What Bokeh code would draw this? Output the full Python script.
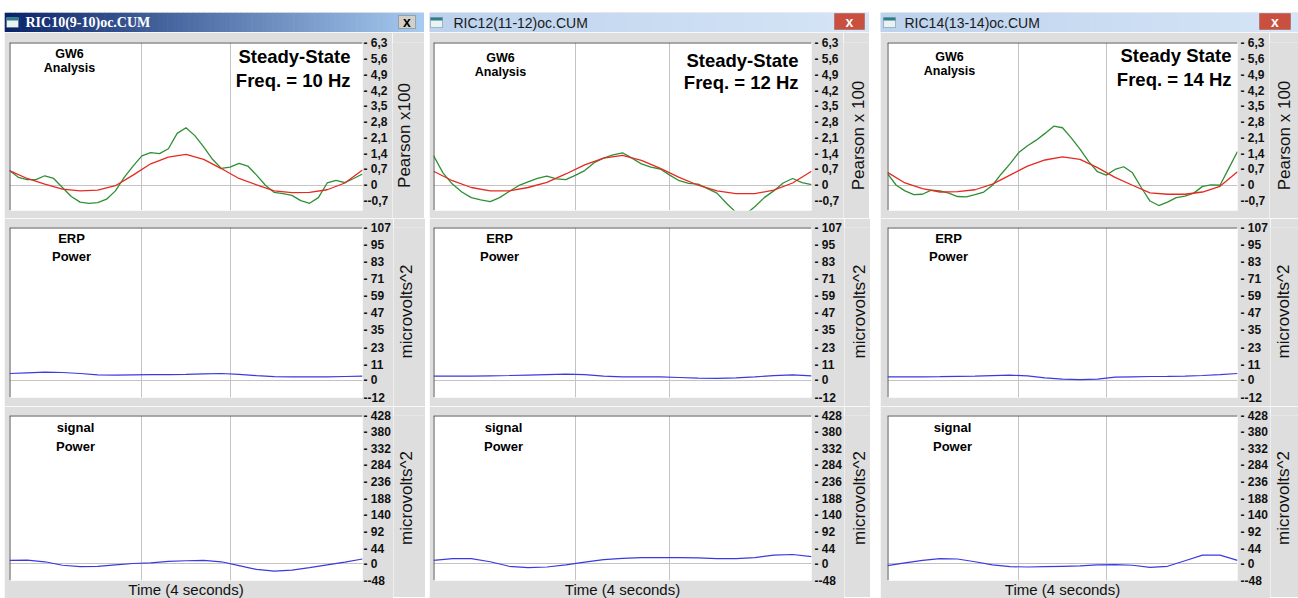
import math
import numpy as np
from bokeh.plotting import figure
from bokeh.layouts import row, column
from bokeh.models import (Range1d, Label, Span, FixedTicker, BoxAnnotation, LinearAxis,
                          CustomJSTickFormatter, Spacer)
from bokeh.embed import file_html
from bokeh.resources import INLINE

# ---------------- data ----------------
t_fine = np.round(np.arange(0, 41) * 0.1, 2)     # time (s), 0.1 s step
t_coarse = np.round(np.arange(0, 21) * 0.2, 2)   # time (s), 0.2 s step

window_titles = ["RIC10(9-10)oc.CUM", "RIC12(11-12)oc.CUM", "RIC14(13-14)oc.CUM"]
state_labels = ["Steady-State", "Steady-State", "Steady State"]
freq_labels = ["Freq. = 10 Hz", "Freq. = 12 Hz", "Freq. = 14 Hz"]
pearson_axis_labels = ["Pearson x100", "Pearson x 100", "Pearson x 100"]
power_axis_label = "microvolts^2"
time_axis_label = "Time (4 seconds)"

pearson_ticks = [-0.7, 0.0, 0.7, 1.4, 2.1, 2.8, 3.5, 4.2, 4.9, 5.6, 6.3]
pearson_tick_labels = ["--0,7", "- 0", "- 0,7", "- 1,4", "- 2,1", "- 2,8", "- 3,5",
                       "- 4,2", "- 4,9", "- 5,6", "- 6,3"]
erp_ticks = [-12, 0, 11, 23, 35, 47, 59, 71, 83, 95, 107]
erp_tick_labels = ["--12", "- 0", "- 11", "- 23", "- 35", "- 47", "- 59", "- 71",
                   "- 83", "- 95", "- 107"]
signal_ticks = [-48, 0, 44, 92, 140, 188, 236, 284, 332, 380, 428]
signal_tick_labels = ["--48", "- 0", "- 44", "- 92", "- 140", "- 188", "- 236", "- 284",
                      "- 332", "- 380", "- 428"]

# GW6 analysis: green = measured Pearson, red = fitted
w1_green = [0.65, 0.35, 0.25, 0.25, 0.42, 0.30, -0.10, -0.50, -0.75, -0.80, -0.77, -0.62,
            -0.25, 0.35, 0.85, 1.30, 1.45, 1.40, 1.62, 2.30, 2.55, 2.20, 1.70, 1.15, 0.75,
            0.80, 0.97, 0.85, 0.45, 0.00, -0.32, -0.37, -0.45, -0.68, -0.80, -0.55, 0.10,
            0.22, 0.12, 0.30, 0.50]
w1_red = [0.65, 0.30, 0.05, -0.17, -0.25, -0.22, -0.02, 0.45, 0.95, 1.25, 1.37, 1.15,
          0.74, 0.30, 0.02, -0.25, -0.33, -0.32, -0.20, 0.10, 0.68]
w2_green = [1.32, 0.55, 0.05, -0.30, -0.55, -0.65, -0.73, -0.55, -0.28, -0.02, 0.15, 0.30,
            0.40, 0.28, 0.25, 0.44, 0.65, 1.00, 1.20, 1.35, 1.44, 1.20, 0.95, 0.80, 0.72,
            0.45, 0.20, 0.08, 0.05, -0.15, -0.35, -0.80, -1.20, -1.30, -0.95, -0.55, -0.25,
            0.10, 0.30, 0.12, 0.03]
w2_red = [0.62, 0.20, -0.10, -0.25, -0.25, -0.10, 0.13, 0.50, 0.90, 1.20, 1.32, 1.10,
          0.75, 0.35, 0.00, -0.25, -0.37, -0.37, -0.22, 0.10, 0.62]
w3_green = [0.52, 0.00, -0.25, -0.42, -0.40, -0.22, -0.25, -0.35, -0.50, -0.52, -0.42, -0.30,
            0.00, 0.50, 0.95, 1.45, 1.75, 2.00, 2.30, 2.62, 2.55, 2.10, 1.60, 1.05, 0.60,
            0.45, 0.70, 0.82, 0.55, -0.10, -0.70, -0.90, -0.75, -0.55, -0.48, -0.35, -0.05,
            0.02, 0.00, 0.75, 1.49]
w3_red = [0.57, 0.10, -0.15, -0.30, -0.28, -0.20, 0.05, 0.45, 0.85, 1.12, 1.26, 1.15,
          0.78, 0.35, 0.00, -0.34, -0.40, -0.40, -0.30, -0.05, 0.60]

# ERP power (microvolts^2)
w1_erp = [4.8, 5.3, 5.8, 5.5, 4.8, 3.9, 3.6, 3.8, 4.0, 4.0, 4.2, 4.6, 4.8, 4.2, 3.3, 2.6,
          2.4, 2.4, 2.5, 2.7, 2.9]
w2_erp = [3.0, 2.9, 3.0, 3.2, 3.4, 3.7, 4.0, 4.3, 4.0, 3.0, 2.4, 2.4, 2.4, 2.0, 1.5, 1.4,
          1.8, 2.5, 3.3, 3.8, 3.1]
w3_erp = [2.4, 2.4, 2.5, 2.6, 2.8, 3.0, 3.3, 3.6, 3.2, 1.8, 0.8, 0.5, 0.9, 2.2, 2.5, 2.7,
          2.8, 3.0, 3.4, 4.0, 4.8]

# signal power (microvolts^2)
w1_sig = [10, 11, 6, -4, -8, -7, -3, 1, 3, 7, 9, 10, 6, -5, -16, -21, -18, -11, -3, 5, 14]
w2_sig = [10, 15, 15, 6, -7, -11, -9, -3, 5, 12, 16, 18, 18, 18, 17, 15, 15, 18, 25, 27, 21]
w3_sig = [-5, 3, 10, 15, 14, 6, -3, -8, -9, -8, -7, -6, -3, -2, -4, -10, -7, 9, 25, 25, 10]

greens = [w1_green, w2_green, w3_green]
reds = [w1_red, w2_red, w3_red]
erps = [w1_erp, w2_erp, w3_erp]
sigs = [w1_sig, w2_sig, w3_sig]

# ---------------- styling / layout ----------------
GRAY = "#dedede"
FONT = "Liberation Sans"
GREEN = "#2f8f34"
RED = "#e62a22"
BLUE = "#3a3ae0"
GRID = "#c4c4c4"
BORDER = "#555555"

# right = width used by tick labels inside the plot; lw = width of axis-title strip
WINS = [
    dict(w=420, left=5, fw=353, right=30, lw=32, gx=60, ex=62, sx=66, sdx=12, gdy=4,
         sdy=3, sgap=24, mls=1, lab_p=12, lab_e=13,
         bar="classic", icon_x=2, text_x=21, btn=(26, 9, 4, 17)),
    dict(w=440, left=4, fw=378, right=32, lw=26, gx=67, ex=66, sx=70, sdx=13, gdy=8,
         sdy=7, sgap=22, mls=3, lab_p=15, lab_e=15,
         bar="win7", icon_x=1, text_x=24, btn=(35, 5, 3, 19)),
    dict(w=418, left=7, fw=350, right=32, lw=29, gx=62, ex=61, sx=65, sdx=6, gdy=7,
         sdy=2, sgap=24, mls=3, lab_p=15, lab_e=13,
         bar="win7", icon_x=3, text_x=24, btn=(39, 8, 3, 19)),
]
FH1, FH2, FH3 = 168, 170, 165

FMT_JS = """
let best = 0; let bd = Infinity;
for (let i = 0; i < tvals.length; i++) {
  const d = Math.abs(tvals[i] - tick);
  if (d < bd) { bd = d; best = i; }
}
return tlabels[best];
"""


def hexcol(c):
    return "#%02x%02x%02x" % tuple(int(round(v)) for v in c)


def titlebar(cfg, title):
    w = cfg["w"]
    p = figure(frame_width=w, frame_height=20, x_range=Range1d(0, w), y_range=Range1d(0, 20),
               x_axis_location=None, y_axis_location=None, toolbar_location=None,
               output_backend="svg", min_border_left=0, min_border_right=0,
               min_border_top=12, min_border_bottom=0, border_fill_color="white",
               background_fill_color=GRAY, outline_line_color=None)
    p.grid.visible = False
    n = 80
    edges = np.linspace(0, w, n + 1)
    fr = np.linspace(0, 1, n)
    if cfg["bar"] == "classic":
        c0, c1 = np.array([10, 36, 106]), np.array([166, 202, 240])
        tcol, tfont, tstyle, tsize = "white", "Liberation Serif", "bold", "14px"
    else:
        c0, c1 = np.array([188, 210, 237]), np.array([214, 229, 246])
        tcol, tfont, tstyle, tsize = "#1a1a1a", FONT, "normal", "14px"
    cols = [hexcol(c0 + (c1 - c0) * f) for f in fr]
    p.quad(left=edges[:-1], right=edges[1:] + 0.6, bottom=0, top=20, color=cols,
           line_color=None)
    ix = cfg["icon_x"]
    p.add_layout(BoxAnnotation(left=ix, right=ix + 12, bottom=5, top=15,
                               fill_color="#e8f4f4", fill_alpha=1, line_color="#2a4a5a",
                               line_width=1))
    p.add_layout(BoxAnnotation(left=ix, right=ix + 12, bottom=12, top=15,
                               fill_color="#2e7d8a", fill_alpha=1, line_color=None))
    p.add_layout(Label(x=cfg["text_x"], y=10, text=title, text_baseline="middle",
                       text_align="left", text_color=tcol, text_font=tfont,
                       text_font_style=tstyle, text_font_size=tsize))
    bl, br, bb, bt = cfg["btn"]
    if cfg["bar"] == "classic":
        bfill, bline, xcol = "#d4d0c8", "#404040", "black"
    else:
        bfill, bline, xcol = "#c9503f", "#7a2a20", "white"
    p.add_layout(BoxAnnotation(left=w - bl, right=w - br, bottom=bb, top=bt,
                               fill_color=bfill, fill_alpha=1, line_color=bline, line_width=1))
    p.add_layout(Label(x=w - (bl + br) / 2, y=(bb + bt) / 2, text="x", text_align="center",
                       text_baseline="middle", text_color=xcol, text_font=FONT,
                       text_font_style="bold", text_font_size="14px"))
    return p


def axis_title(cfg, total_h, frame_center, text, cx):
    """Narrow strip to the right of a panel holding its vertical axis title."""
    p = figure(frame_width=cfg["lw"], frame_height=total_h, x_range=Range1d(0, 1),
               y_range=Range1d(0, 1), x_axis_location=None, y_axis_location=None,
               toolbar_location=None, output_backend="svg", min_border_left=0,
               min_border_right=0, min_border_top=0, min_border_bottom=0,
               background_fill_color=GRAY, border_fill_color=GRAY, outline_line_color=None)
    p.grid.visible = False
    p.add_layout(Label(x=cx, y=frame_center, x_units="screen", y_units="screen", text=text,
                       angle=math.pi / 2, text_align="center", text_baseline="middle",
                       text_font=FONT, text_font_size="17px", text_color="#111111"))
    return p


def panel(cfg, fh, lo, hi, ticks, labels, top, bottom):
    p = figure(frame_width=cfg["fw"], frame_height=fh, x_range=Range1d(0, 4),
               y_range=Range1d(lo, hi), x_axis_location=None, y_axis_location="right",
               toolbar_location=None, output_backend="svg",
               min_border_left=cfg["left"], min_border_right=cfg["right"],
               min_border_top=top, min_border_bottom=bottom,
               background_fill_color="white", border_fill_color=GRAY,
               outline_line_color=None)
    p.xgrid.ticker = FixedTicker(ticks=[1.5, 2.5])
    p.ygrid.ticker = FixedTicker(ticks=[0])
    p.grid.grid_line_color = GRID
    p.grid.grid_line_width = 1
    ax = p.yaxis[0]
    ax.ticker = FixedTicker(ticks=ticks)
    ax.formatter = CustomJSTickFormatter(args=dict(tvals=ticks, tlabels=labels), code=FMT_JS)
    ax.major_tick_out = 0
    ax.major_tick_in = 0
    ax.minor_tick_out = 0
    ax.minor_tick_in = 0
    ax.major_tick_line_color = None
    ax.minor_tick_line_color = None
    ax.axis_line_color = None
    ax.major_label_standoff = cfg["mls"]
    ax.major_label_text_font = FONT
    ax.major_label_text_font_style = "bold"
    ax.major_label_text_font_size = "12px"
    ax.major_label_text_color = "#111111"
    p.add_layout(Span(location=0, dimension="height", line_color=BORDER, line_width=2))
    p.add_layout(Span(location=hi, dimension="width", line_color=BORDER, line_width=2))
    return p


def txt(p, x, y, text, size, align="center"):
    p.add_layout(Label(x=x, y=y, x_units="screen", y_units="screen", text=text,
                       text_align=align, text_baseline="top", text_font=FONT,
                       text_font_style="bold", text_font_size=size, text_color="black"))


columns = []
for i, cfg in enumerate(WINS):
    tb = titlebar(cfg, window_titles[i])

    # Pearson panel
    t1, b1 = 10, 8
    p1 = panel(cfg, FH1, -1.12, 6.33, pearson_ticks, pearson_tick_labels, t1, b1)
    p1.line(t_fine, greens[i], line_color=GREEN, line_width=1.3)
    p1.line(t_coarse, reds[i], line_color=RED, line_width=1.3)
    txt(p1, cfg["gx"], FH1 - cfg["gdy"], "GW6", "12.5px")
    txt(p1, cfg["gx"], FH1 - cfg["gdy"] - 14, "Analysis", "12.5px")
    txt(p1, cfg["fw"] - cfg["sdx"], FH1 - cfg["sdy"], state_labels[i], "18.5px", "right")
    txt(p1, cfg["fw"] - cfg["sdx"], FH1 - cfg["sdy"] - cfg["sgap"], freq_labels[i],
        "18.5px", "right")
    a1 = axis_title(cfg, t1 + FH1 + b1, b1 + FH1 / 2 + 1, pearson_axis_labels[i],
                    cfg["lab_p"])

    # ERP power panel
    t2, b2 = 9, 9
    p2 = panel(cfg, FH2, -12, 107, erp_ticks, erp_tick_labels, t2, b2)
    p2.line(t_coarse, erps[i], line_color=BLUE, line_width=1.2)
    txt(p2, cfg["ex"], FH2 - 3, "ERP", "13px")
    txt(p2, cfg["ex"], FH2 - 21, "Power", "13px")
    a2 = axis_title(cfg, t2 + FH2 + b2, b2 + FH2 / 2 + 10, power_axis_label, cfg["lab_e"])

    # signal power panel
    t3, b3 = 9, 17
    p3 = panel(cfg, FH3, -48, 428, signal_ticks, signal_tick_labels, t3, b3)
    p3.line(t_coarse, sigs[i], line_color=BLUE, line_width=1.2)
    txt(p3, cfg["sx"], FH3 - 4, "signal", "13px")
    txt(p3, cfg["sx"], FH3 - 23, "Power", "13px")
    xa = LinearAxis(ticker=FixedTicker(ticks=[]), axis_label=time_axis_label,
                    axis_line_color=None, major_tick_line_color=None,
                    minor_tick_line_color=None, major_tick_out=0, minor_tick_out=0,
                    major_label_standoff=0, axis_label_standoff=0,
                    axis_label_text_font=FONT, axis_label_text_font_style="normal",
                    axis_label_text_font_size="15px", axis_label_text_color="#111111")
    p3.add_layout(xa, "below")
    a3 = axis_title(cfg, t3 + FH3 + b3, b3 + FH3 / 2 + 9, power_axis_label, cfg["lab_e"])

    columns.append(column(tb, row(p1, a1, spacing=0), row(p2, a2, spacing=0),
                          row(p3, a3, spacing=0), spacing=0))

layout = row(Spacer(width=4), columns[0], Spacer(width=4), columns[1], Spacer(width=10),
             columns[2], spacing=0)

with open("out.html", "w") as f:
    f.write(file_html(layout, INLINE))
